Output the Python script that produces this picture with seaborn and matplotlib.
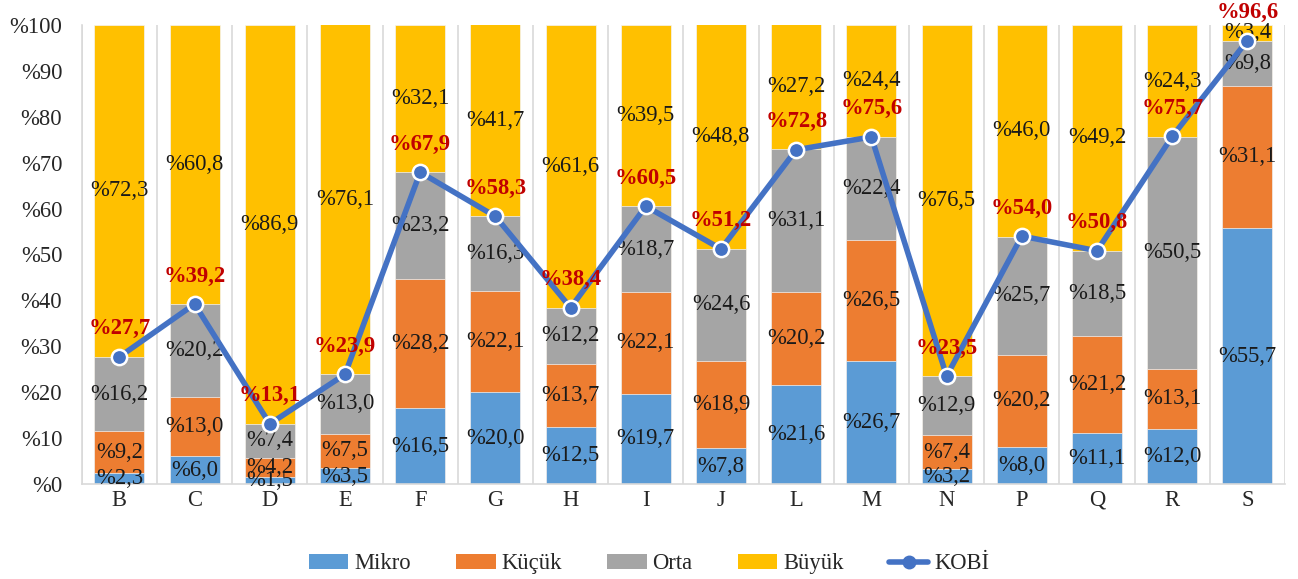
import matplotlib
matplotlib.use("Agg")
import matplotlib.pyplot as plt
import seaborn as sns
import numpy as np
import pandas as pd
from matplotlib.patches import Patch
from matplotlib.lines import Line2D

categories = ["B", "C", "D", "E", "F", "G", "H", "I", "J", "L", "M", "N", "P", "Q", "R", "S"]
mikro = [2.3, 6.0, 1.5, 3.5, 16.5, 20.0, 12.5, 19.7, 7.8, 21.6, 26.7, 3.2, 8.0, 11.1, 12.0, 55.7]
kucuk = [9.2, 13.0, 4.2, 7.5, 28.2, 22.1, 13.7, 22.1, 18.9, 20.2, 26.5, 7.4, 20.2, 21.2, 13.1, 31.1]
orta = [16.2, 20.2, 7.4, 13.0, 23.2, 16.3, 12.2, 18.7, 24.6, 31.1, 22.4, 12.9, 25.7, 18.5, 50.5, 9.8]
buyuk = [72.3, 60.8, 86.9, 76.1, 32.1, 41.7, 61.6, 39.5, 48.8, 27.2, 24.4, 76.5, 46.0, 49.2, 24.3, 3.4]
kobi = [27.7, 39.2, 13.1, 23.9, 67.9, 58.3, 38.4, 60.5, 51.2, 72.8, 75.6, 23.5, 54.0, 50.8, 75.7, 96.6]
yticks = [0, 10, 20, 30, 40, 50, 60, 70, 80, 90, 100]

series_names = ["Mikro", "Küçük", "Orta", "Büyük"]
colors = ["#5B9BD5", "#ED7D31", "#A5A5A5", "#FFC000"]
line_color = "#4472C4"
red = "#C00000"

sns.set_theme(style="white")
plt.rcParams["font.family"] = ["Liberation Serif", "DejaVu Serif"]
FS = 16.3

def fmt(v):
    return "%" + f"{v:.1f}".replace(".", ",")

fig = plt.figure(figsize=(12.98, 5.79), dpi=100)
ax = fig.add_axes([0.063, 0.164, 0.927, 0.793])

m = np.array(mikro); k = np.array(kucuk); o = np.array(orta); b = np.array(buyuk)
cum = [m, m + k, m + k + o, m + k + o + b]
bottoms = [np.zeros_like(m), m, m + k, m + k + o]
vals = [m, k, o, b]

# draw from top down (cumulative totals), so lower segments overlay
for i in [3, 2, 1, 0]:
    df = pd.DataFrame({"cat": categories, "val": cum[i]})
    sns.barplot(data=df, x="cat", y="val", color=colors[i], width=0.665,
                ax=ax, saturation=1, edgecolor="#F4F4F4", linewidth=0.5,
                order=categories)

# segment labels
for i in range(4):
    for j, cat in enumerate(categories):
        yc = bottoms[i][j] + vals[i][j] / 2
        ax.text(j, yc, fmt(vals[i][j]), ha="center", va="center",
                fontsize=FS, color="#1a1a1a", zorder=5)

# KOBİ line
x = np.arange(len(categories))
ax.plot(x, kobi, color=line_color, linewidth=4, marker="o", markersize=11,
        markerfacecolor=line_color, markeredgecolor="white", markeredgewidth=1.8,
        zorder=6)
for j, v in enumerate(kobi):
    ax.annotate(fmt(v), (j, v), xytext=(0, 28), textcoords="offset pixels",
                ha="center", va="center", fontsize=FS, fontweight="bold",
                color=red, zorder=7)

ax.set_ylim(0, 100)
ax.set_xlim(-0.5, len(categories) - 0.5)
ax.set_yticks(yticks)
ax.set_yticklabels(["%" + str(t) for t in yticks], fontsize=FS)
ax.set_xticks(x)
ax.set_xticklabels(categories, fontsize=FS)
ax.tick_params(axis="y", length=0, pad=14, colors="#262626")
ax.tick_params(axis="x", length=0, pad=4, colors="#262626")
ax.set_xlabel("")
ax.set_ylabel("")
for xb in np.arange(-0.5, len(categories), 1.0):
    ax.axvline(xb, color="#D9D9D9", linewidth=1.2, zorder=0)
for s in ["top", "right"]:
    ax.spines[s].set_visible(False)
ax.spines["left"].set_color("#D9D9D9")
ax.spines["bottom"].set_color("#D9D9D9")
ax.spines["left"].set_linewidth(1.2)
ax.spines["bottom"].set_linewidth(1.2)
ax.grid(False)

handles = [Patch(facecolor=c, edgecolor="none") for c in colors]
handles.append(Line2D([0], [0], color=line_color, linewidth=4, marker="o",
                      markersize=9, markerfacecolor=line_color,
                      markeredgecolor=line_color))
fig.legend(handles, series_names + ["KOBİ"], loc="center", ncol=5,
           bbox_to_anchor=(0.5, 0.026), frameon=False, fontsize=FS,
           handlelength=1.75, handleheight=0.7, columnspacing=2.0,
           handletextpad=0.25)

fig.savefig("out.png", dpi=100)
